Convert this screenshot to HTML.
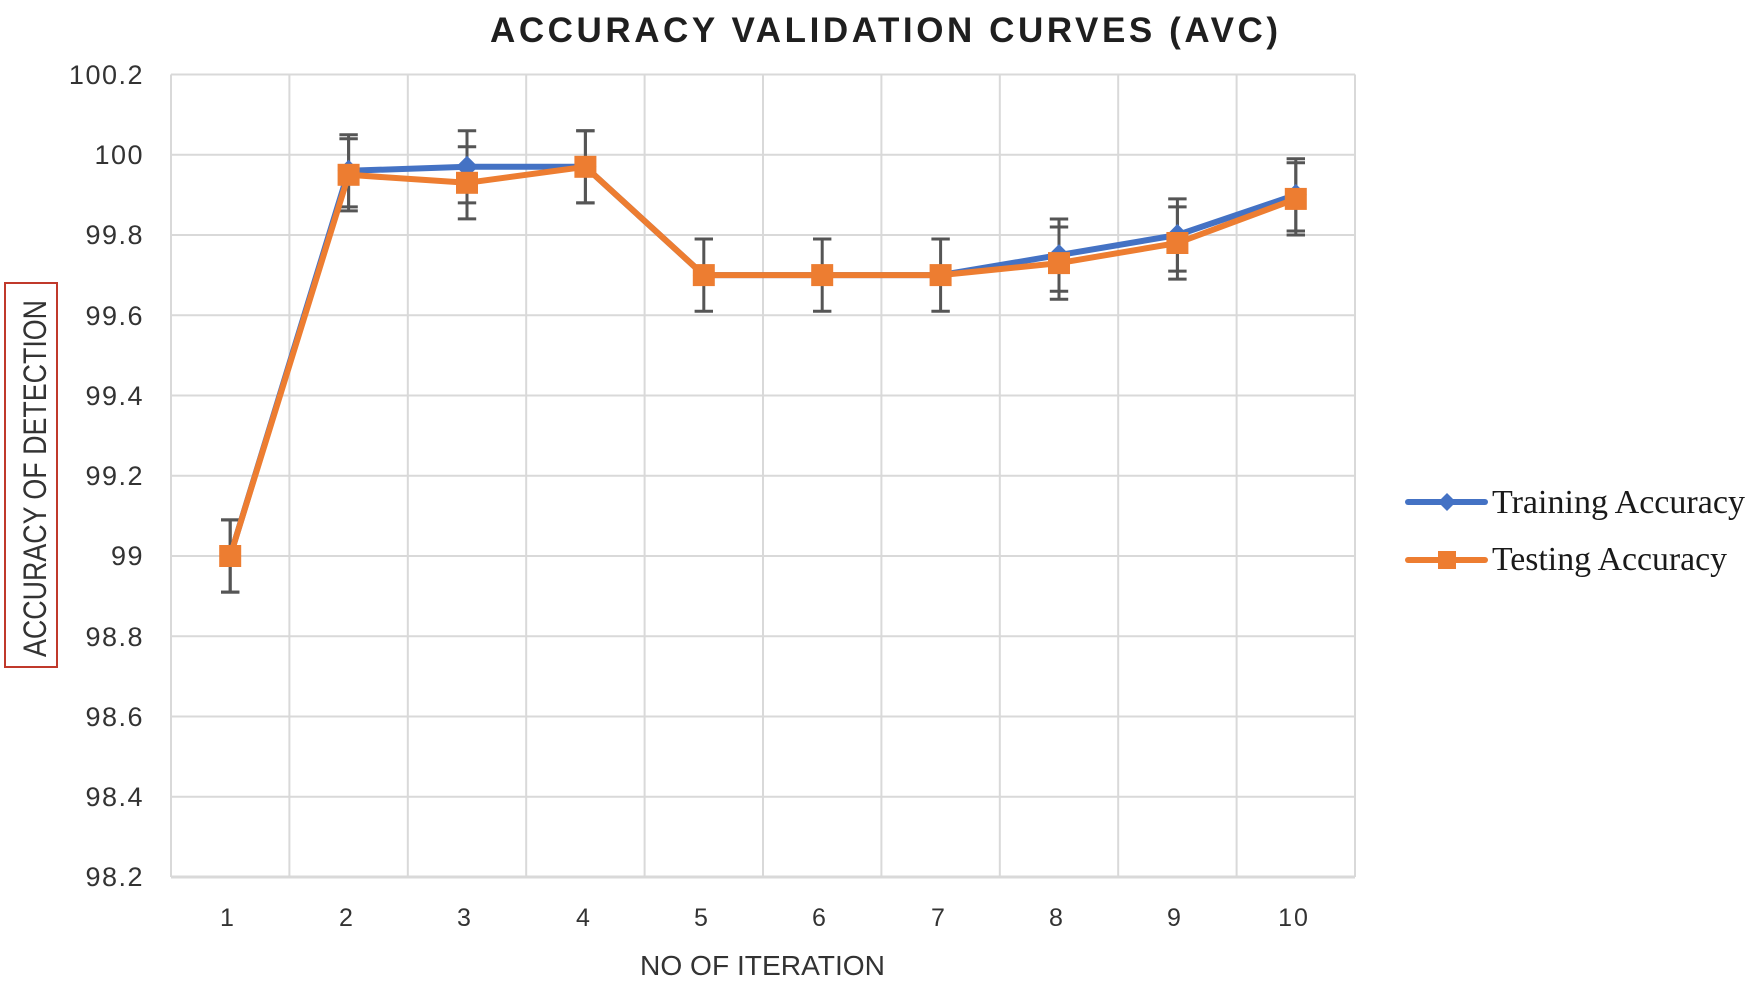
<!DOCTYPE html>
<html><head><meta charset="utf-8"><style>
html,body{margin:0;padding:0;background:#fff;}
svg{display:block;}
</style></head><body>
<svg width="1750" height="987" viewBox="0 0 1750 987" xmlns="http://www.w3.org/2000/svg">
<rect width="1750" height="987" fill="#fff"/>
<!-- title -->
<text x="490" y="42" font-family="Liberation Sans, sans-serif" font-weight="bold" font-size="35" fill="#1f1f1f" textLength="788" lengthAdjust="spacing">ACCURACY VALIDATION CURVES (AVC)</text>
<!-- gridlines -->
<g stroke="#d9d9d9" stroke-width="2">
<line x1="171" y1="74.5" x2="1355" y2="74.5"/>
<line x1="171" y1="154.75" x2="1355" y2="154.75"/>
<line x1="171" y1="235" x2="1355" y2="235"/>
<line x1="171" y1="315.25" x2="1355" y2="315.25"/>
<line x1="171" y1="395.5" x2="1355" y2="395.5"/>
<line x1="171" y1="475.75" x2="1355" y2="475.75"/>
<line x1="171" y1="556" x2="1355" y2="556"/>
<line x1="171" y1="636.25" x2="1355" y2="636.25"/>
<line x1="171" y1="716.5" x2="1355" y2="716.5"/>
<line x1="171" y1="796.75" x2="1355" y2="796.75"/>
<line x1="171" y1="877" x2="1355" y2="877" stroke-width="3"/>
<line x1="171" y1="74.5" x2="171" y2="877"/>
<line x1="289.4" y1="74.5" x2="289.4" y2="877"/>
<line x1="407.8" y1="74.5" x2="407.8" y2="877"/>
<line x1="526.2" y1="74.5" x2="526.2" y2="877"/>
<line x1="644.6" y1="74.5" x2="644.6" y2="877"/>
<line x1="763" y1="74.5" x2="763" y2="877"/>
<line x1="881.4" y1="74.5" x2="881.4" y2="877"/>
<line x1="999.8" y1="74.5" x2="999.8" y2="877"/>
<line x1="1118.2" y1="74.5" x2="1118.2" y2="877"/>
<line x1="1236.6" y1="74.5" x2="1236.6" y2="877"/>
<line x1="1355" y1="74.5" x2="1355" y2="877"/>
</g>
<!-- y tick labels -->
<g font-family="Liberation Sans, sans-serif" font-size="27" fill="#333" text-anchor="end" letter-spacing="1.5">
<text x="144" y="84">100.2</text>
<text x="144" y="164">100</text>
<text x="144" y="244">99.8</text>
<text x="144" y="325">99.6</text>
<text x="144" y="405">99.4</text>
<text x="144" y="485">99.2</text>
<text x="144" y="565">99</text>
<text x="144" y="646">98.8</text>
<text x="144" y="726">98.6</text>
<text x="144" y="806">98.4</text>
<text x="144" y="886">98.2</text>
</g>
<!-- x tick labels -->
<g font-family="Liberation Sans, sans-serif" font-size="25" fill="#333" text-anchor="middle">
<text x="227" y="926">1</text>
<text x="346" y="926">2</text>
<text x="464" y="926">3</text>
<text x="583" y="926">4</text>
<text x="701" y="926">5</text>
<text x="819" y="926">6</text>
<text x="938" y="926">7</text>
<text x="1056" y="926">8</text>
<text x="1174" y="926">9</text>
<text x="1294" y="926" letter-spacing="2">10</text>
</g>
<!-- x axis title -->
<text x="640" y="975" font-family="Liberation Sans, sans-serif" font-size="28" fill="#333" textLength="245" lengthAdjust="spacingAndGlyphs">NO OF ITERATION</text>
<!-- y axis title -->
<rect x="5" y="283" width="52" height="384" fill="none" stroke="#c0392b" stroke-width="2"/>
<text transform="translate(46,657) rotate(-90)" font-family="Liberation Sans, sans-serif" font-size="32" fill="#333" textLength="357" lengthAdjust="spacingAndGlyphs">ACCURACY OF DETECTION</text>
<!-- error bars -->
<g stroke="#555" stroke-width="3" fill="none">
<path d="M230.2 519.9V592.1M221 519.9H239.4M221 592.1H239.4"/>
<path d="M348.6 134.7V206.9M339.4 134.7H357.8M339.4 206.9H357.8"/>
<path d="M467 130.7V202.9M457.8 130.7H476.2M457.8 202.9H476.2"/>
<path d="M585.4 130.7V202.9M576.2 130.7H594.6M576.2 202.9H594.6"/>
<path d="M703.8 239V311.2M694.6 239H713M694.6 311.2H713"/>
<path d="M822.2 239V311.2M813 239H831.4M813 311.2H831.4"/>
<path d="M940.6 239V311.2M931.4 239H949.8M931.4 311.2H949.8"/>
<path d="M1059 219V291.2M1049.8 219H1068.2M1049.8 291.2H1068.2"/>
<path d="M1177.4 198.9V271.1M1168.2 198.9H1186.6M1168.2 271.1H1186.6"/>
<path d="M1295.8 158.8V231M1286.6 158.8H1305M1286.6 231H1305"/>
<path d="M230.2 519.9V592.1M221 519.9H239.4M221 592.1H239.4"/>
<path d="M348.6 138.7V210.9M339.4 138.7H357.8M339.4 210.9H357.8"/>
<path d="M467 146.7V218.9M457.8 146.7H476.2M457.8 218.9H476.2"/>
<path d="M585.4 130.7V202.9M576.2 130.7H594.6M576.2 202.9H594.6"/>
<path d="M1059 227V299.2M1049.8 227H1068.2M1049.8 299.2H1068.2"/>
<path d="M1177.4 206.9V279.1M1168.2 206.9H1186.6M1168.2 279.1H1186.6"/>
<path d="M1295.8 162.8V235M1286.6 162.8H1305M1286.6 235H1305"/>
</g>
<!-- training line -->
<polyline fill="none" stroke="#4472C4" stroke-width="6" stroke-linejoin="round" points="230.2,556 348.6,170.8 467,166.8 585.4,166.8 703.8,275.1 822.2,275.1 940.6,275.1 1059,255.1 1177.4,235 1295.8,194.9"/>
<g fill="#4472C4">
<path d="M230.2 545l11 11-11 11-11-11z"/>
<path d="M348.6 159.8l11 11-11 11-11-11z"/>
<path d="M467 155.8l11 11-11 11-11-11z"/>
<path d="M585.4 155.8l11 11-11 11-11-11z"/>
<path d="M703.8 264.1l11 11-11 11-11-11z"/>
<path d="M822.2 264.1l11 11-11 11-11-11z"/>
<path d="M940.6 264.1l11 11-11 11-11-11z"/>
<path d="M1059 244.1l11 11-11 11-11-11z"/>
<path d="M1177.4 224l11 11-11 11-11-11z"/>
<path d="M1295.8 183.9l11 11-11 11-11-11z"/>
</g>
<!-- testing line -->
<polyline fill="none" stroke="#ED7D31" stroke-width="6" stroke-linejoin="round" points="230.2,556 348.6,174.8 467,182.8 585.4,166.8 703.8,275.1 822.2,275.1 940.6,275.1 1059,263.1 1177.4,243 1295.8,198.9"/>
<g fill="#ED7D31">
<rect x="219.2" y="545" width="22" height="22"/>
<rect x="337.6" y="163.8" width="22" height="22"/>
<rect x="456" y="171.8" width="22" height="22"/>
<rect x="574.4" y="155.8" width="22" height="22"/>
<rect x="692.8" y="264.1" width="22" height="22"/>
<rect x="811.2" y="264.1" width="22" height="22"/>
<rect x="929.6" y="264.1" width="22" height="22"/>
<rect x="1048" y="252.1" width="22" height="22"/>
<rect x="1166.4" y="232" width="22" height="22"/>
<rect x="1284.8" y="187.9" width="22" height="22"/>
</g>
<!-- legend -->
<line x1="1408" y1="502" x2="1485" y2="502" stroke="#4472C4" stroke-width="6" stroke-linecap="round"/>
<path d="M1447 493l9 9-9 9-9-9z" fill="#4472C4"/>
<line x1="1408" y1="560" x2="1485" y2="560" stroke="#ED7D31" stroke-width="6" stroke-linecap="round"/>
<rect x="1438" y="551" width="18" height="18" fill="#ED7D31"/>
<g font-family="Liberation Serif, serif" font-size="34" fill="#1a1a1a">
<text x="1492" y="513" textLength="253" lengthAdjust="spacingAndGlyphs">Training Accuracy</text>
<text x="1492" y="570" textLength="235" lengthAdjust="spacingAndGlyphs">Testing Accuracy</text>
</g>
</svg>
</body></html>
